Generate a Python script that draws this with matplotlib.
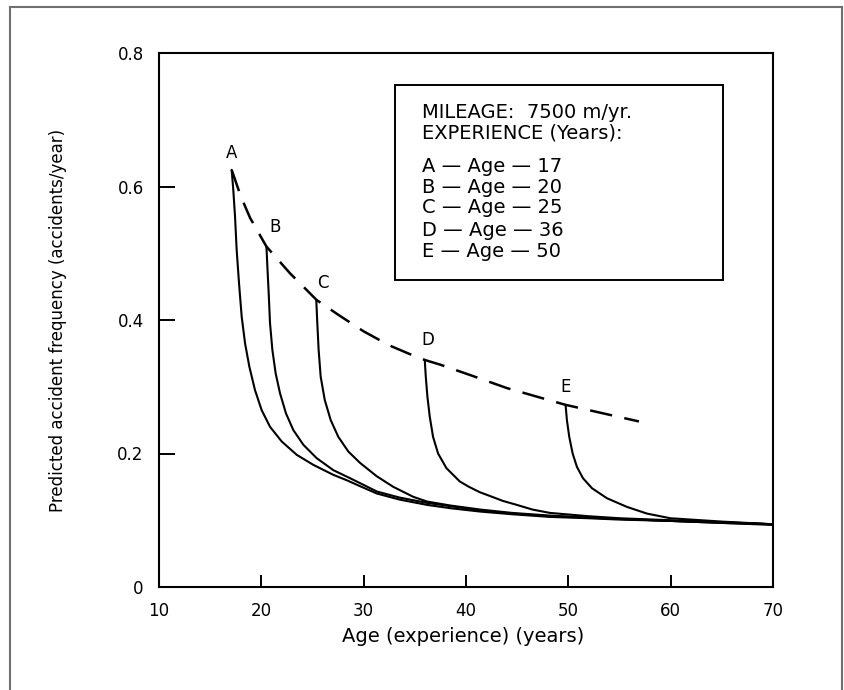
import matplotlib
matplotlib.use("Agg")
import matplotlib.pyplot as plt
from matplotlib.lines import Line2D
from matplotlib.patches import Rectangle

# ---- data ----
age_A = [17.1, 17.26, 17.43, 17.59, 17.82, 18.08, 18.41, 18.83, 19.38, 20.03, 20.85, 21.99, 23.46,
         25.08, 27.04, 28.34, 29.8, 31.3, 33.5, 36.2, 38.5, 41.4, 44.5, 48.2, 52, 55, 60, 65, 70]
freq_A = [0.625, 0.595, 0.555, 0.505, 0.455, 0.405, 0.365, 0.330, 0.295, 0.265, 0.240, 0.218, 0.198,
          0.183, 0.168, 0.160, 0.150, 0.140, 0.131, 0.123, 0.118, 0.113, 0.109, 0.105, 0.103, 0.101,
          0.099, 0.096, 0.093]

age_B = [20.5, 20.59, 20.72, 20.85, 21.08, 21.40, 21.83, 22.41, 23.13, 24.11, 25.41, 27.04, 28.67,
         31.3, 33.5, 36.2, 38.5, 41.4, 44.5, 48.2, 52, 55, 60, 65, 70]
freq_B = [0.510, 0.480, 0.440, 0.395, 0.355, 0.320, 0.290, 0.260, 0.235, 0.213, 0.193, 0.175, 0.163,
          0.143, 0.134, 0.126, 0.121, 0.115, 0.110, 0.106, 0.104, 0.102, 0.099, 0.096, 0.094]

age_C = [25.37, 25.47, 25.6, 25.8, 26.2, 26.78, 27.52, 28.5, 29.64, 31.27, 32.9, 34.86, 36.2, 38.5,
         41.4, 44.5, 48.2, 52, 55, 60, 65, 70]
freq_C = [0.430, 0.395, 0.355, 0.315, 0.280, 0.250, 0.225, 0.203, 0.186, 0.166, 0.150, 0.135, 0.128,
          0.122, 0.116, 0.111, 0.107, 0.104, 0.102, 0.099, 0.097, 0.094]

age_D = [35.97, 36.07, 36.23, 36.46, 36.78, 37.27, 38.09, 39.4, 40.3, 41.35, 42.4, 43.6, 44.97,
         46.5, 48.2, 52, 55, 60, 65, 70]
freq_D = [0.340, 0.315, 0.285, 0.255, 0.225, 0.200, 0.178, 0.158, 0.150, 0.142, 0.136, 0.129, 0.123,
          0.116, 0.111, 0.106, 0.103, 0.100, 0.097, 0.094]

age_E = [49.73, 49.86, 50.09, 50.42, 50.84, 51.43, 52.31, 53.77, 55.73, 57.68, 59.96, 65, 70]
freq_E = [0.273, 0.250, 0.225, 0.200, 0.180, 0.163, 0.148, 0.133, 0.120, 0.110, 0.103, 0.098, 0.094]

age_env = [17.1, 18.0, 18.9, 20.5, 22.8, 25.4, 27.5, 30.0, 32.5, 34.5, 36.0, 37.5, 40.5, 44.0,
           49.7, 56.9]
freq_env = [0.625, 0.585, 0.553, 0.510, 0.470, 0.430, 0.408, 0.383, 0.362, 0.349, 0.340, 0.333,
            0.317, 0.298, 0.273, 0.248]

curve_letters = ["A", "B", "C", "D", "E"]
start_ages = [17, 20, 25, 36, 50]

x_ticks = [10, 20, 30, 40, 50, 60, 70]
y_ticks = [0, 0.2, 0.4, 0.6, 0.8]
y_ticklabels = ["0", "0.2", "0.4", "0.6", "0.8"]

# ---- figure ----
fig = plt.figure(figsize=(8.44, 6.90), dpi=100)
ax = fig.add_axes([159/844, 1-587/690, (773-159)/844, (587-53)/690])

curves = [(age_A, freq_A), (age_B, freq_B), (age_C, freq_C), (age_D, freq_D), (age_E, freq_E)]
for ages, freqs in curves:
    ax.plot(ages, freqs, color="black", lw=1.5, solid_joinstyle="round", solid_capstyle="round")

ax.plot(age_env, freq_env, color="black", lw=1.8, dashes=(9, 5))

label_offsets = [(0.0, 0.025), (0.8, 0.030), (0.6, 0.026), (0.3, 0.030), (0.0, 0.027)]
for letter, (ages, freqs), (dx, dy) in zip(curve_letters, curves, label_offsets):
    ax.text(ages[0] + dx, freqs[0] + dy, letter, fontsize=12, ha="center", va="center")

ax.set_xlim(10, 70)
ax.set_ylim(0, 0.8)
ax.set_xticks(x_ticks)
ax.set_yticks(y_ticks)
ax.set_yticklabels(y_ticklabels)
ax.tick_params(axis="y", direction="in", length=11.5, width=1.4, pad=11, labelsize=12)
ax.tick_params(axis="x", direction="in", length=8.6, width=1.4, pad=11, labelsize=12)
for s in ax.spines.values():
    s.set_linewidth(1.5)

ax.set_xlabel("Age (experience) (years)", fontsize=14)
ax.xaxis.label.set_va("center")
ax.xaxis.set_label_coords(0.495, -0.0936)
ax.set_ylabel("Predicted accident frequency (accidents/year)", fontsize=12)
ax.yaxis.label.set_va("center")
ax.yaxis.set_label_coords(-0.1645, 0.5)

# legend-like text box
ax.add_patch(Rectangle((0.384, 0.575), 0.9186-0.384, 0.940-0.575, transform=ax.transAxes,
                       fill=False, lw=1.4, ec="black", zorder=5))
legend_lines = ["MILEAGE:  7500 m/yr.", "EXPERIENCE (Years):"] + \
    [f"{l} \u2014 Age \u2014 {a}" for l, a in zip(curve_letters, start_ages)]
legend_y = [0.8895, 0.850, 0.788, 0.749, 0.710, 0.6685, 0.629]
for txt, yy in zip(legend_lines, legend_y):
    ax.text(0.428, yy, txt, transform=ax.transAxes, fontsize=14, ha="left", va="center")

# outer border
border_kw = dict(color="#707070", lw=1.5, transform=fig.transFigure)
fig.add_artist(Line2D([10/844, 10/844], [0, 1-7/690], **border_kw))
fig.add_artist(Line2D([10/844, 842/844], [1-7/690, 1-7/690], **border_kw))
fig.add_artist(Line2D([842/844, 842/844], [0, 1-7/690], **border_kw))

fig.savefig("out.png", dpi=100)
